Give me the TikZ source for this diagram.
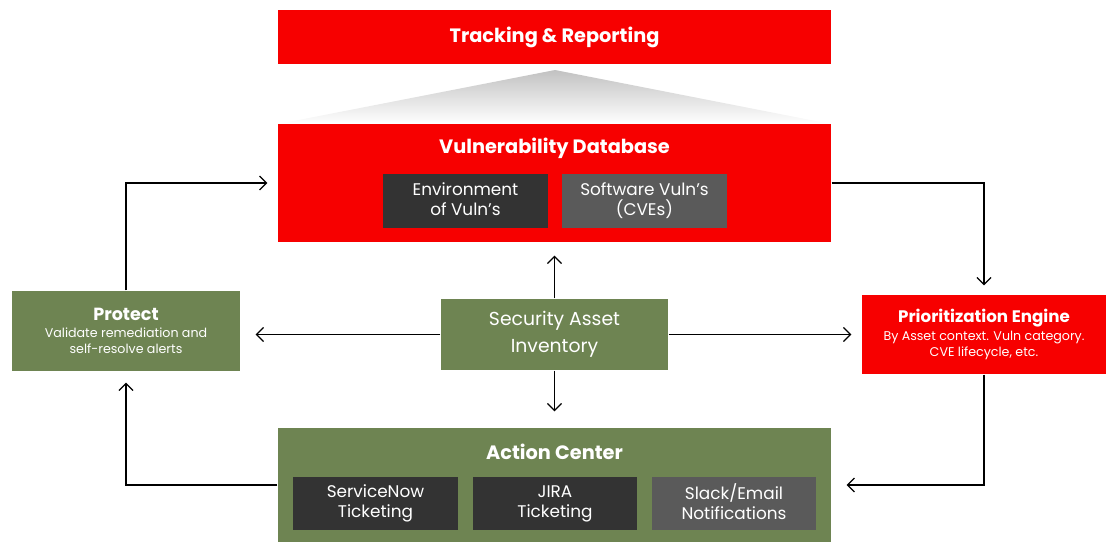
\documentclass[tikz,border=0pt]{standalone}
\usepackage{fontspec}
\setmainfont{Poppins}
\usetikzlibrary{arrows.meta}
\definecolor{vred}{RGB}{247,0,0}
\definecolor{vgreen}{RGB}{110,132,82}
\definecolor{vdark}{RGB}{51,51,51}
\definecolor{vgray}{RGB}{90,90,90}
\begin{document}
\begin{tikzpicture}[x=0.02cm, y=-0.02cm, >={Straight Barb[length=4pt,width=8pt]}, line width=0.7pt]
			\tikzstyle{bigbox}   = [rectangle, inner sep=0pt, text=white, align=center, minimum width=11.06cm]
			\tikzstyle{sidebox}  = [rectangle, inner sep=0pt, text=white, align=center, font=\fontsize{7.2}{9}\selectfont]
			\tikzstyle{subbox}   = [rectangle, inner sep=0pt, text=white, align=center, minimum width=3.3cm, minimum height=1.07cm, text depth=2.6pt, font=\fontsize{9.6}{11.4}\selectfont]
			\tikzstyle{title}    = [text=white, font=\bfseries\fontsize{11}{13}\selectfont]
			\tikzstyle{link}     = [draw=black, ->]

			\useasboundingbox (0,0) rectangle (1110,542);

			\node[bigbox, fill=vred, minimum height=1.08cm, font=\bfseries\fontsize{11}{13}\selectfont] (trk) at (554.5, 37) {Tracking \& Reporting};
			\shade[top color=black!24, bottom color=white] (555, 70) -- (831, 124) -- (278, 124) -- cycle;

			\node[bigbox, fill=vred, minimum height=2.36cm] (vdb) at (554.5, 183) {};
			\node[title] (vdbt) at (554.5, 148) {Vulnerability Database};
			\node[subbox, fill=vdark] (env) at (465.5, 201) {Environment\\of Vuln’s};
			\node[subbox, fill=vgray] (cve) at (644.5, 201) {Software Vuln’s\\(CVEs)};

			\node[bigbox, fill=vgreen, minimum height=2.28cm] (ac) at (554.5, 485) {};
			\node[title] (act) at (554.5, 452) {Action Center};
			\foreach \name/\x/\col/\txt in {snow/375.5/vdark/{ServiceNow\\Ticketing}, jira/555/vdark/{JIRA\\Ticketing}, slack/734/vgray/{Slack/Email\\Notifications}}
				\node[subbox, fill=\col] (\name) at (\x, 503.5) {\txt};

			\node[sidebox, fill=vgreen, minimum width=4.56cm, minimum height=1.6cm] (pro) at (126, 331)
				{{\bfseries\fontsize{10}{12}\selectfont Protect}\\[1pt]Validate remediation and\\self-resolve alerts};
			\node[sidebox, fill=vgreen, minimum width=4.54cm, minimum height=1.42cm, font=\fontsize{10.7}{15.4}\selectfont] (sai) at (554.5, 334.5) {Security Asset\\Inventory};
			\node[sidebox, fill=vred, minimum width=4.88cm, minimum height=1.58cm] (prio) at (984, 334.5)
				{{\bfseries\fontsize{9.5}{12}\selectfont Prioritization Engine}\\[1pt]By Asset context. Vuln category.\\CVE lifecycle, etc.};

			\draw[link, shorten >=0.2cm] (pro.north) |- (vdb.west);
			\draw[link, shorten >=0.18cm] (vdb.east) -| (prio.north);
			\draw[link, shorten >=0.3cm] (prio.south) |- (ac.east);
			\draw[link, shorten >=0.22cm] (ac.west) -| (pro.south);
			\draw[link, shorten >=0.3cm] (sai.west) -- (sai.west -| pro.east);
			\draw[link, shorten >=0.2cm] (sai.east) -- (sai.east -| prio.west);
			\draw[link, shorten >=0.26cm] (sai.north) -- (sai.north |- vdb.south);
			\draw[link, shorten >=0.32cm] (sai.south) -- (sai.south |- ac.north);

		\end{tikzpicture}
\end{document}
